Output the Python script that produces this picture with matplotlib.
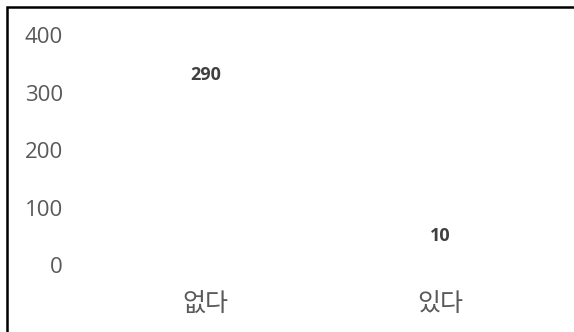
import matplotlib
matplotlib.use("Agg")
import matplotlib.pyplot as plt
from matplotlib.patches import Rectangle

categories = ["없다", "있다"]
counts = [290, 10]
yticks = [0, 100, 200, 300, 400]

plt.rcParams['font.family'] = ['Open Sans', 'Noto Sans CJK KR', 'DejaVu Sans']

fig = plt.figure(figsize=(5.74, 3.32), dpi=100)
ax = fig.add_axes([88 / 574, 1 - 265 / 332, 470 / 574, 230 / 332])

x = range(len(categories))
bars = ax.bar(x, counts, width=0.5, color="white")
for b, v in zip(bars, counts):
    ax.annotate(str(v), (b.get_x() + b.get_width() / 2, v), xytext=(0, 17),
                textcoords="offset points", ha="center", va="center",
                fontsize=13, fontweight="bold", color="#404040")

ax.set_xlim(-0.5, 1.5)
ax.set_ylim(0, 400)
ax.set_yticks(yticks)
ax.set_xticks(list(x))
ax.set_xticklabels(categories, family=['Noto Sans CJK KR', 'DejaVu Sans'])
ax.tick_params(axis="y", length=0, pad=18, labelsize=16, labelcolor="#595959")
ax.tick_params(axis="x", length=0, pad=19, labelsize=18, labelcolor="#595959")
for s in ax.spines.values():
    s.set_visible(False)

# outer chart border, only the top and left edges fall inside the image
fig.patches.append(Rectangle((7 / 574, -0.1), 1.2, 1 - 7 / 332 + 0.1,
                             transform=fig.transFigure, fill=False,
                             edgecolor="black", linewidth=1.8))

fig.savefig("out.png", dpi=100)
